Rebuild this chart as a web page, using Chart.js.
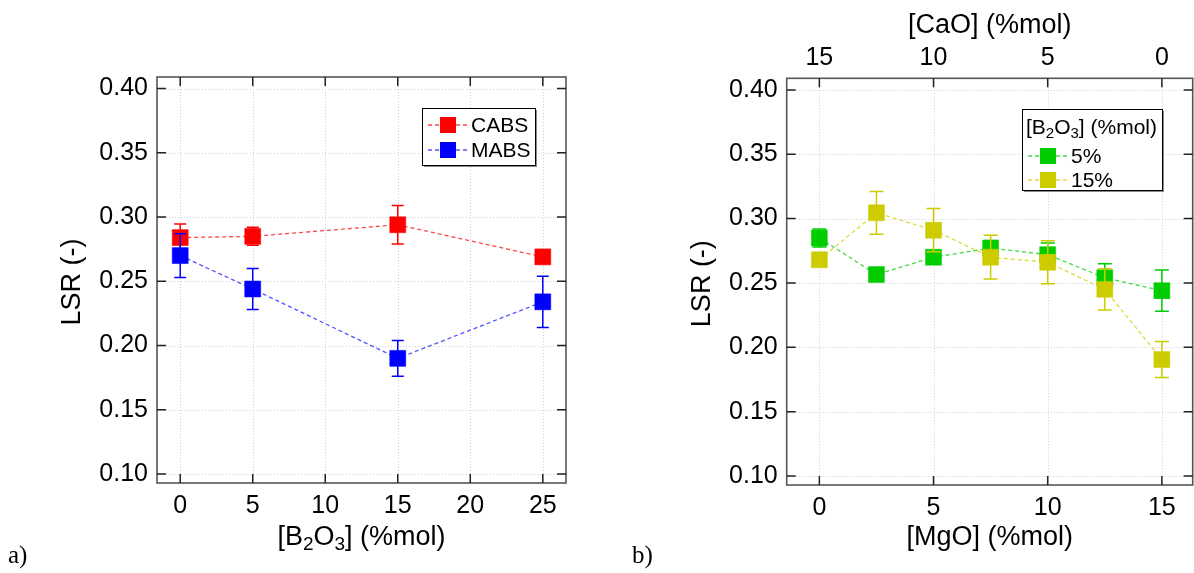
<!DOCTYPE html>
<html>
<head>
<meta charset="utf-8">
<script src="https://cdn.jsdelivr.net/npm/chart.js@4.4.0/dist/chart.umd.min.js"></script>
<style>
html, body { margin: 0; padding: 0; background: #fff; overflow: hidden; }
#wrap { position: relative; width: 1194px; height: 573px; overflow: hidden; }
.panel { position: absolute; top: 0; height: 573px; }
#pa { left: 0; width: 597px; }
#pb { left: 597px; width: 616px; }
</style>
</head>
<body>
<div id="wrap">
  <div class="panel" id="pa"><canvas id="ca" width="597" height="573"></canvas></div>
  <div class="panel" id="pb"><canvas id="cb" width="616" height="573"></canvas></div>
</div>
<script>
// ---- panel a) data
const b2o3 = [0, 5, 15, 25];
const cabsLSR = [0.284, 0.285, 0.294, 0.269];
const cabsErr = [0.0105, 0.007, 0.015, 0.003];
const mabsLSR = [0.270, 0.244, 0.190, 0.234];
const mabsErr = [0.017, 0.016, 0.014, 0.020];
const b2o3Ticks = [0, 5, 10, 15, 20, 25];

// ---- panel b) data
const mgo = [0, 2.5, 5, 7.5, 10, 12.5, 15];
const b5LSR = [0.285, 0.2565, 0.270, 0.277, 0.272, 0.254, 0.244];
const b5Err = [0.007, 0.003, 0.004, 0.006, 0.009, 0.011, 0.016];
const b15LSR = [0.268, 0.3045, 0.291, 0.270, 0.266, 0.245, 0.1905];
const b15Err = [0.003, 0.0166, 0.0168, 0.017, 0.0167, 0.016, 0.014];
const mgoTicks = [0, 5, 10, 15];
const caoLabels = ['15', '10', '5', '0'];

const lsrTicks = [0.10, 0.15, 0.20, 0.25, 0.30, 0.35, 0.40];

const FONT = '"Liberation Sans", Arial, sans-serif';
const SERIF = '"Liberation Serif", "Times New Roman", serif';
Chart.defaults.font.family = FONT;
Chart.defaults.color = '#000';

function pts(xs, ys){
	return xs.map((x, i) => ({x: x, y: ys[i]}));
}

// text with subscript pieces: parts = [[text, isSub], ...]
function richText(ctx, parts, x, y, size, align){
	const big = size + 'px ' + FONT;
	const small = Math.round(size * 0.72) + 'px ' + FONT;
	let w = 0;
	parts.forEach(p => { ctx.font = p[1] ? small : big; w += ctx.measureText(p[0]).width; });
	let cx = align === 'center' ? x - w / 2 : x;
	ctx.textAlign = 'left';
	ctx.textBaseline = 'alphabetic';
	ctx.fillStyle = '#000';
	parts.forEach(p => {
		ctx.font = p[1] ? small : big;
		ctx.fillText(p[0], cx, y + (p[1] ? size * 0.2 : 0));
		cx += ctx.measureText(p[0]).width;
	});
}

function dataset(label, xs, ys, errs, color, lineColor, order){
	return {
		label: label,
		data: pts(xs, ys),
		errors: errs,
		order: order,
		borderColor: lineColor,
		borderWidth: 1.3,
		borderDash: [4, 3],
		backgroundColor: color,
		pointStyle: 'rect',
		pointRadius: 11.3,
		pointHoverRadius: 11.3,
		pointBackgroundColor: color,
		pointBorderColor: color,
		pointBorderWidth: 0.5,
		tension: 0,
		fill: false
	};
}

// frame, dotted grid, inner tick marks, error bars, titles, legend
const decorPlugin = {
	id: 'decor',
	beforeDatasetsDraw(chart){
		const ctx = chart.ctx, a = chart.chartArea;
		const xs = chart.scales.x, ys = chart.scales.y;
		ctx.save();
		ctx.strokeStyle = '#cfcfcf';
		ctx.lineWidth = 1;
		ctx.setLineDash([1, 2]);
		xs.ticks.forEach(t => {
			const px = Math.round(xs.getPixelForValue(t.value)) + 0.5;
			ctx.beginPath(); ctx.moveTo(px, a.top); ctx.lineTo(px, a.bottom); ctx.stroke();
		});
		ys.ticks.forEach(t => {
			const py = Math.round(ys.getPixelForValue(t.value)) + 0.5;
			ctx.beginPath(); ctx.moveTo(a.left, py); ctx.lineTo(a.right, py); ctx.stroke();
		});
		ctx.restore();
	},
	beforeDatasetDraw(chart, args){
		const ds = chart.data.datasets[args.index];
		if(!ds.errors) return;
		const ctx = chart.ctx, ys = chart.scales.y;
		const cap = chart.options.plugins.decor.cap;
		ctx.save();
		ctx.strokeStyle = ds.backgroundColor;
		ctx.lineWidth = 1.5;
		ctx.setLineDash([]);
		args.meta.data.forEach((el, i) => {
			const e = ds.errors[i];
			const v = ds.data[i].y;
			const y1 = ys.getPixelForValue(v + e), y2 = ys.getPixelForValue(v - e);
			ctx.beginPath();
			ctx.moveTo(el.x, y1); ctx.lineTo(el.x, y2);
			ctx.moveTo(el.x - cap, y1); ctx.lineTo(el.x + cap, y1);
			ctx.moveTo(el.x - cap, y2); ctx.lineTo(el.x + cap, y2);
			ctx.stroke();
		});
		ctx.restore();
	},
	afterDraw(chart){
		const ctx = chart.ctx, a = chart.chartArea;
		const o = chart.options.plugins.decor;
		const xs = chart.scales.x, ys = chart.scales.y;
		ctx.save();
		// frame
		ctx.strokeStyle = '#555';
		ctx.lineWidth = 1.6;
		ctx.strokeRect(a.left, a.top, a.right - a.left, a.bottom - a.top);
		// inner ticks
		ctx.strokeStyle = '#222';
		ctx.lineWidth = 1.5;
		const tl = 9;
		xs.ticks.forEach(t => {
			const px = xs.getPixelForValue(t.value);
			ctx.beginPath();
			ctx.moveTo(px, a.bottom); ctx.lineTo(px, a.bottom - tl);
			ctx.moveTo(px, a.top); ctx.lineTo(px, a.top + tl);
			ctx.stroke();
		});
		ys.ticks.forEach(t => {
			const py = ys.getPixelForValue(t.value);
			ctx.beginPath();
			ctx.moveTo(a.left, py); ctx.lineTo(a.left + tl, py);
			ctx.moveTo(a.right, py); ctx.lineTo(a.right - tl, py);
			ctx.stroke();
		});
		// y title
		ctx.save();
		ctx.translate(o.yTitleX, (a.top + a.bottom) / 2 + 2);
		ctx.rotate(-Math.PI / 2);
		richText(ctx, [['LSR (-)', false]], 0, 0, 27, 'center');
		ctx.restore();
		// x title(s)
		richText(ctx, o.xTitle, (a.left + a.right) / 2, 545, 27, 'center');
		if(o.topTitle) richText(ctx, o.topTitle, (a.left + a.right) / 2, 33, 27, 'center');
		// panel letter
		ctx.font = '25px ' + SERIF;
		ctx.fillStyle = '#000';
		ctx.textAlign = 'left';
		ctx.textBaseline = 'alphabetic';
		ctx.fillText(o.letter[0], o.letter[1], 563);
		// legend
		const L = o.legend;
		ctx.fillStyle = '#8a8a8a';
		ctx.fillRect(L.x + 2, L.y + 2, L.w, L.h);
		ctx.fillStyle = '#fff';
		ctx.fillRect(L.x, L.y, L.w, L.h);
		ctx.strokeStyle = '#000';
		ctx.lineWidth = 1;
		ctx.strokeRect(L.x + 0.5, L.y + 0.5, L.w, L.h);
		if(L.title) richText(ctx, L.title, L.x + 4, L.y + 25, 21, 'left');
		chart.data.datasets.forEach((ds, i) => {
			const ry = L.rowY[i];
			ctx.strokeStyle = ds.borderColor;
			ctx.lineWidth = 1.3;
			ctx.setLineDash([4, 3]);
			ctx.beginPath(); ctx.moveTo(L.x + 6, ry); ctx.lineTo(L.x + 46, ry); ctx.stroke();
			ctx.setLineDash([]);
			ctx.fillStyle = ds.backgroundColor;
			ctx.fillRect(L.x + 26 - 8, ry - 8, 16, 16);
			ctx.fillStyle = '#000';
			ctx.font = '21px ' + FONT;
			ctx.textBaseline = 'middle';
			ctx.fillText(ds.label, L.x + 49, ry + 1);
		});
		ctx.restore();
	}
};

const tickFont = {family: FONT, size: 25};

function yScale(width){
	return {
		type: 'linear', min: 0.093, max: 0.409,
		afterBuildTicks: s => { s.ticks = lsrTicks.map(v => ({value: v})); },
		afterFit: s => { s.width = width; },
		grid: {display: false, drawTicks: false},
		border: {display: false},
		ticks: {padding: 9, font: tickFont, color: '#000', callback: v => v.toFixed(2)}
	};
}

function xScale(pos, min, max, ticks, height, pad, labels){
	return {
		type: 'linear', position: pos, min: min, max: max,
		afterBuildTicks: s => { s.ticks = ticks.map(v => ({value: v})); },
		afterFit: s => { s.height = height; },
		grid: {display: false, drawTicks: false},
		border: {display: false},
		ticks: {padding: pad, font: tickFont, color: '#000', maxRotation: 0, autoSkip: false,
			callback: labels ? (v, i) => labels[i] : (v => String(v))}
	};
}

// ---- chart a)
new Chart(document.getElementById('ca'), {
	type: 'line',
	data: {
		datasets: [
			dataset('CABS', b2o3, cabsLSR, cabsErr, '#ff0000', 'rgba(255,40,40,0.85)', 2),
			dataset('MABS', b2o3, mabsLSR, mabsErr, '#0000ff', 'rgba(40,40,255,0.8)', 1)
		]
	},
	options: {
		responsive: false,
		animation: false,
		layout: {padding: {top: 77, right: 31, left: 0, bottom: 0}},
		scales: {
			x: xScale('bottom', -1.6, 26.6, b2o3Ticks, 90, 8),
			y: yScale(157)
		},
		plugins: {
			legend: {display: false},
			tooltip: {enabled: false},
			decor: {
				cap: 6,
				yTitleX: 80,
				xTitle: [['[B', false], ['2', true], ['O', false], ['3', true], ['] (%mol)', false]],
				letter: ['a)', 8],
				legend: {x: 422, y: 108, w: 113, h: 57, rowY: [125, 150]}
			}
		}
	},
	plugins: [decorPlugin]
});

// ---- chart b) (canvas runs past the page edge so the last label's
// padding does not push the plot frame inwards)
new Chart(document.getElementById('cb'), {
	type: 'line',
	data: {
		datasets: [
			dataset('5%', mgo, b5LSR, b5Err, '#00cc00', 'rgba(20,210,20,0.8)', 2),
			dataset('15%', mgo, b15LSR, b15Err, '#cccc00', 'rgba(215,215,30,0.85)', 1)
		]
	},
	options: {
		responsive: false,
		animation: false,
		layout: {padding: {top: 0, right: 20.3, left: 0, bottom: 0}},
		scales: {
			x: xScale('bottom', -1.43, 16.35, mgoTicks, 88, 8),
			x2: xScale('top', -1.43, 16.35, mgoTicks, 78.3, 5, caoLabels),
			y: yScale(189.7)
		},
		plugins: {
			legend: {display: false},
			tooltip: {enabled: false},
			decor: {
				cap: 7,
				yTitleX: 112.7,
				xTitle: [['[MgO] (%mol)', false]],
				topTitle: [['[CaO] (%mol)', false]],
				letter: ['b)', 35],
				legend: {x: 425, y: 109, w: 140, h: 81, rowY: [156, 180],
					title: [['[B', false], ['2', true], ['O', false], ['3', true], ['] (%mol)', false]]}
			}
		}
	},
	plugins: [decorPlugin]
});
</script>
</body>
</html>
